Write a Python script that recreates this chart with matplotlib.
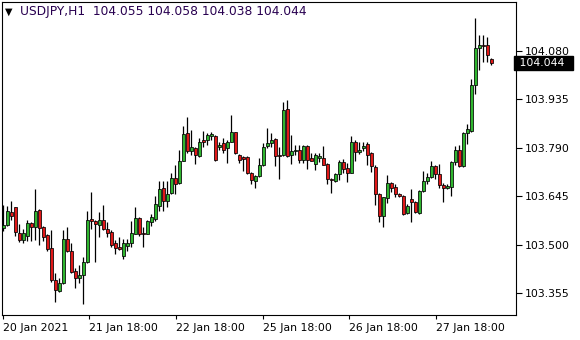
import matplotlib
matplotlib.use("Agg")
import matplotlib.pyplot as plt
import matplotlib.transforms as mtransforms
import numpy as np

# USDJPY H1 candles (oldest first)
opens = [103.550, 103.558, 103.597, 103.612, 103.535, 103.515, 103.525, 103.565, 103.553, 103.604,
         103.553, 103.528, 103.489, 103.395, 103.361, 103.385, 103.518, 103.482, 103.420, 103.400,
         103.409, 103.447, 103.578, 103.571, 103.558, 103.575, 103.548, 103.538, 103.506, 103.494,
         103.466, 103.497, 103.504, 103.533, 103.580, 103.535, 103.533, 103.569, 103.578, 103.617,
         103.671, 103.632, 103.656, 103.701, 103.686, 103.752, 103.834, 103.780, 103.789, 103.765,
         103.814, 103.814, 103.827, 103.827, 103.792, 103.804, 103.789, 103.809, 103.837, 103.770,
         103.762, 103.762, 103.716, 103.691, 103.706, 103.738, 103.797, 103.804, 103.817, 103.768,
         103.768, 103.908, 103.768, 103.780, 103.784, 103.755, 103.796, 103.760, 103.742, 103.760,
         103.760, 103.742, 103.696, 103.691, 103.711, 103.748, 103.730, 103.716, 103.809, 103.778,
         103.789, 103.801, 103.775, 103.732, 103.653, 103.585, 103.640, 103.686, 103.673, 103.653,
         103.647, 103.594, 103.637, 103.627, 103.594, 103.661, 103.691, 103.703, 103.735, 103.711,
         103.679, 103.671, 103.673, 103.748, 103.784, 103.735, 103.834, 103.841, 103.979, 104.090,
         104.097, 104.097, 104.055]
highs = [103.619, 103.617, 103.632, 103.614, 103.563, 103.548, 103.575, 103.567, 103.666, 103.606,
         103.556, 103.531, 103.543, 103.415, 103.400, 103.543, 103.553, 103.504, 103.430, 103.440,
         103.464, 103.602, 103.659, 103.573, 103.597, 103.620, 103.568, 103.543, 103.514, 103.523,
         103.518, 103.518, 103.571, 103.612, 103.583, 103.553, 103.573, 103.592, 103.647, 103.691,
         103.691, 103.691, 103.716, 103.740, 103.784, 103.857, 103.883, 103.844, 103.792, 103.821,
         103.841, 103.834, 103.839, 103.829, 103.809, 103.821, 103.814, 103.890, 103.839, 103.772,
         103.765, 103.765, 103.719, 103.709, 103.760, 103.804, 103.851, 103.834, 103.819, 103.792,
         103.927, 103.932, 103.829, 103.799, 103.799, 103.799, 103.799, 103.775, 103.775, 103.775,
         103.797, 103.745, 103.701, 103.716, 103.755, 103.758, 103.745, 103.827, 103.814, 103.809,
         103.809, 103.807, 103.778, 103.738, 103.655, 103.644, 103.709, 103.689, 103.681, 103.656,
         103.650, 103.622, 103.666, 103.632, 103.663, 103.721, 103.716, 103.750, 103.740, 103.742,
         103.686, 103.683, 103.752, 103.796, 103.799, 103.837, 103.863, 103.996, 104.179, 104.129,
         104.129, 104.123, 104.058]
lows = [103.540, 103.555, 103.573, 103.526, 103.507, 103.506, 103.512, 103.512, 103.514, 103.499,
        103.512, 103.482, 103.390, 103.328, 103.358, 103.384, 103.479, 103.415, 103.371, 103.385,
        103.324, 103.444, 103.548, 103.447, 103.523, 103.543, 103.523, 103.494, 103.472, 103.484,
        103.456, 103.482, 103.494, 103.531, 103.525, 103.494, 103.531, 103.557, 103.571, 103.602,
        103.600, 103.612, 103.651, 103.651, 103.683, 103.750, 103.775, 103.768, 103.742, 103.762,
        103.792, 103.799, 103.814, 103.752, 103.784, 103.775, 103.745, 103.807, 103.772, 103.745,
        103.721, 103.713, 103.683, 103.669, 103.703, 103.735, 103.789, 103.794, 103.735, 103.696,
        103.765, 103.762, 103.742, 103.768, 103.745, 103.745, 103.727, 103.750, 103.725, 103.748,
        103.738, 103.681, 103.656, 103.689, 103.693, 103.716, 103.689, 103.714, 103.752, 103.772,
        103.780, 103.738, 103.719, 103.620, 103.568, 103.553, 103.624, 103.659, 103.644, 103.644,
        103.590, 103.592, 103.568, 103.594, 103.592, 103.659, 103.681, 103.699, 103.696, 103.671,
        103.629, 103.666, 103.647, 103.740, 103.732, 103.732, 103.801, 103.839, 103.952, 104.024,
        104.046, 104.046, 104.038]
closes = [103.560, 103.600, 103.585, 103.538, 103.514, 103.535, 103.565, 103.553, 103.602, 103.551,
          103.523, 103.486, 103.395, 103.366, 103.387, 103.518, 103.482, 103.418, 103.400, 103.410,
          103.447, 103.575, 103.571, 103.561, 103.575, 103.548, 103.536, 103.499, 103.489, 103.486,
          103.506, 103.506, 103.535, 103.580, 103.531, 103.531, 103.571, 103.583, 103.622, 103.668,
          103.632, 103.651, 103.701, 103.683, 103.752, 103.831, 103.780, 103.792, 103.768, 103.809,
          103.809, 103.829, 103.831, 103.755, 103.799, 103.784, 103.809, 103.837, 103.775, 103.755,
          103.758, 103.716, 103.693, 103.706, 103.738, 103.794, 103.804, 103.814, 103.765, 103.765,
          103.905, 103.765, 103.781, 103.784, 103.755, 103.797, 103.755, 103.752, 103.770, 103.765,
          103.740, 103.696, 103.694, 103.711, 103.748, 103.728, 103.716, 103.809, 103.778, 103.784,
          103.797, 103.770, 103.735, 103.653, 103.585, 103.642, 103.686, 103.671, 103.651, 103.647,
          103.592, 103.617, 103.627, 103.597, 103.661, 103.691, 103.703, 103.735, 103.711, 103.679,
          103.671, 103.676, 103.748, 103.784, 103.735, 103.834, 103.846, 103.979, 104.090, 104.097,
          104.095, 104.067, 104.044]

symbol = "USDJPY,H1"
price_ticks = [104.080, 103.935, 103.790, 103.645, 103.500, 103.355]
time_labels = ["20 Jan 2021", "21 Jan 18:00", "22 Jan 18:00", "25 Jan 18:00",
               "26 Jan 18:00", "27 Jan 18:00"]
time_tick_bars = [-0.15, 21.5, 43.2, 64.85, 86.4, 108.1]

UP = "#2fb52f"
DOWN = "#e01818"
FS = 7.8

o = np.array(opens)
h = np.array(highs)
l = np.array(lows)
c = np.array(closes)
idx = np.arange(len(o))

fig = plt.figure(figsize=(5.8, 3.4), dpi=100)
fig.patch.set_facecolor("white")
ax = fig.add_axes([2 / 580, 1 - 315 / 340, 514 / 580, 313 / 340])

ax.vlines(idx, l, h, color="black", lw=0.9, zorder=2)
ax.bar(idx, c - o, bottom=o, width=0.72, color=np.where(c >= o, UP, DOWN),
       edgecolor="black", linewidth=0.55, zorder=3)

ax.set_xlim(-0.33, 128.2)
ax.set_ylim(103.2897, 104.2269)

for s in ax.spines.values():
    s.set_linewidth(0.8)
    s.set_color("black")

ax.yaxis.tick_right()
ax.set_yticks(price_ticks)
ax.set_yticklabels(["%.3f" % p for p in price_ticks])
ax.tick_params(axis="y", direction="out", length=4, width=0.8, pad=2,
               labelsize=FS, colors="black")

ax.set_xticks(time_tick_bars)
ax.set_xticklabels(time_labels, ha="left")
ax.tick_params(axis="x", direction="out", length=3, width=0.8, pad=3,
               labelsize=FS, colors="black")

# current price marker on the price scale
trans = mtransforms.blended_transform_factory(ax.transAxes, ax.transData)
ax.text(1.0, c[-1], " %.3f  " % c[-1], transform=trans, ha="left", va="center",
        color="white", fontsize=FS, clip_on=False,
        bbox=dict(boxstyle="square,pad=0.15", facecolor="black", edgecolor="black"))

# chart header
fig.text(5 / 580, 1 - 12 / 340, "\u25bc", fontsize=7, color="black", va="center")
header = "%s  %.3f %.3f %.3f %.3f" % (symbol, o[-1], h[-1], l[-1], c[-1])
fig.text(20 / 580, 1 - 12 / 340, header, fontsize=8.8, color="#280050", va="center")

fig.savefig("out.png", dpi=100, facecolor="white")
